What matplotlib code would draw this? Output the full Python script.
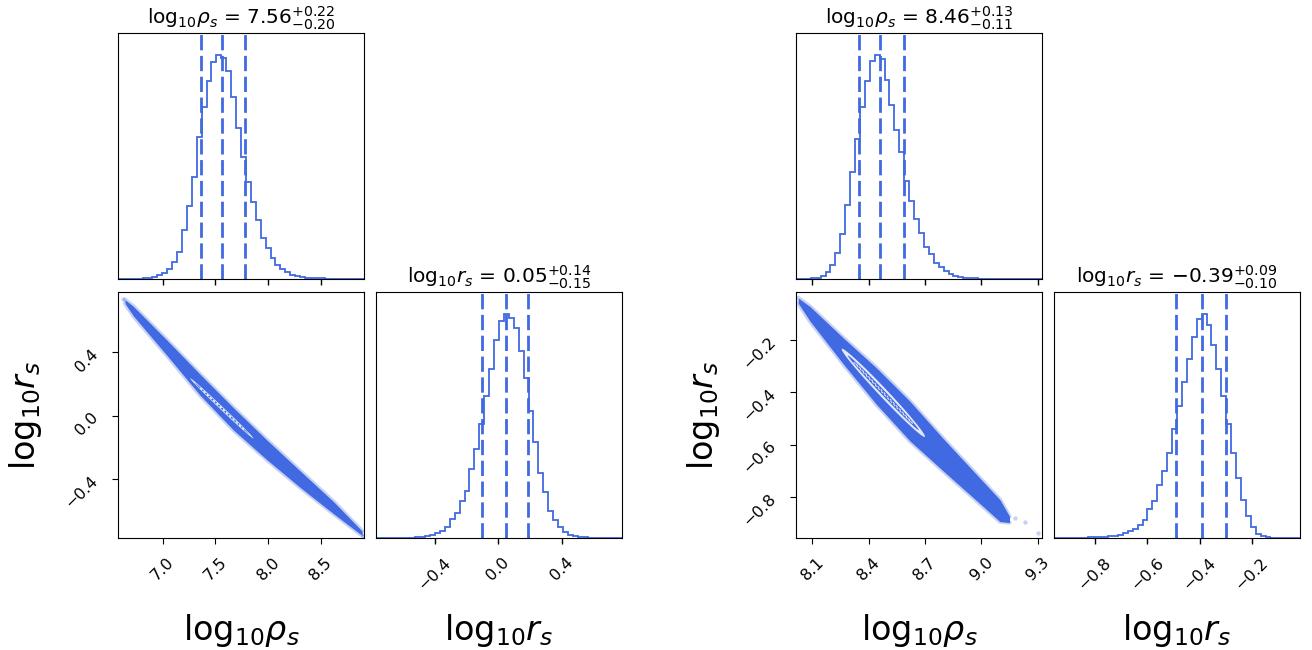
"""
Two corner plots (log10 rho_s vs log10 r_s) side by side, redrawn from a reference.
"""

import numpy as np
import matplotlib
matplotlib.use("Agg")
import matplotlib.pyplot as plt

COLOR = "royalblue"

# ---- values ----
# 1D marginals, 50 bins each, normalised to the peak bin
rho_a_hist = [0.001, 0.001, 0.002, 0.002, 0.002, 0.003, 0.005, 0.010, 0.018, 0.028,
              0.043, 0.077, 0.122, 0.219, 0.326, 0.457, 0.636, 0.770, 0.886, 0.970,
              1.000, 0.990, 0.930, 0.815, 0.676, 0.546, 0.434, 0.345, 0.262, 0.183,
              0.137, 0.092, 0.063, 0.043, 0.033, 0.018, 0.013, 0.009, 0.006, 0.004,
              0.003, 0.003, 0.002, 0.002, 0.001, 0.001, 0.001, 0.001, 0.001, 0.001]
r_a_hist = [0.001, 0.001, 0.001, 0.001, 0.001, 0.001, 0.002, 0.002, 0.003, 0.006,
            0.009, 0.015, 0.021, 0.033, 0.051, 0.085, 0.112, 0.167, 0.212, 0.309,
            0.397, 0.509, 0.635, 0.754, 0.885, 0.970, 1.000, 0.985, 0.940, 0.837,
            0.714, 0.570, 0.430, 0.292, 0.205, 0.122, 0.080, 0.047, 0.025, 0.015,
            0.009, 0.005, 0.003, 0.002, 0.002, 0.001, 0.001, 0.001, 0.001, 0.001]
rho_b_hist = [0.001, 0.001, 0.002, 0.003, 0.005, 0.013, 0.030, 0.063, 0.117, 0.202,
              0.329, 0.478, 0.625, 0.770, 0.885, 0.975, 1.000, 0.982, 0.888, 0.776,
              0.668, 0.570, 0.436, 0.347, 0.267, 0.205, 0.145, 0.112, 0.072, 0.052,
              0.034, 0.022, 0.015, 0.007, 0.005, 0.003, 0.003, 0.002, 0.002, 0.001,
              0.001, 0.001, 0.001, 0.001, 0.001, 0.001, 0.001, 0.001, 0.001, 0.001]
r_b_hist = [0.001, 0.001, 0.001, 0.001, 0.002, 0.002, 0.002, 0.003, 0.003, 0.004,
            0.005, 0.009, 0.010, 0.015, 0.021, 0.030, 0.040, 0.058, 0.081, 0.130,
            0.167, 0.239, 0.299, 0.379, 0.488, 0.590, 0.697, 0.801, 0.901, 0.981,
            1.000, 0.951, 0.861, 0.757, 0.633, 0.510, 0.379, 0.269, 0.170, 0.100,
            0.048, 0.018, 0.009, 0.003, 0.001, 0.001, 0.001, 0.001, 0.001, 0.001]

# axis ranges
rho_a_range = (6.576, 8.908)
r_a_range = (-0.770, 0.780)
rho_b_range = (8.013, 9.323)
r_b_range = (-0.958, -0.015)

# median and -/+ errors shown in the titles
rho_a_stats = (7.56, 0.20, 0.22)
r_a_stats = (0.05, 0.15, 0.14)
rho_b_stats = (8.46, 0.11, 0.13)
r_b_stats = (-0.39, 0.10, 0.09)

# tick values
rho_a_ticks = [7.0, 7.5, 8.0, 8.5]
r_a_ticks = [-0.4, 0.0, 0.4]
rho_b_ticks = [8.1, 8.4, 8.7, 9.0, 9.3]
r_b_ticks = [-0.8, -0.6, -0.4, -0.2]

# 2D sample cloud: upper / lower edges of the dense band
band_a_x = [6.643, 6.721, 7.038, 7.355, 7.671, 7.988, 8.304, 8.621, 8.890]
band_a_up = [0.731, 0.690, 0.478, 0.261, 0.050, -0.153, -0.348, -0.542, -0.726]
band_a_lo = [0.707, 0.630, 0.382, 0.129, -0.090, -0.277, -0.452, -0.618, -0.754]
stray_a_x = [6.62, 8.90]
stray_a_y = [0.735, -0.760]

band_b_x = [8.025, 8.088, 8.265, 8.443, 8.620, 8.797, 8.975, 9.099, 9.150]
band_b_up = [-0.038, -0.071, -0.191, -0.307, -0.434, -0.577, -0.715, -0.811, -0.875]
band_b_lo = [-0.058, -0.127, -0.291, -0.447, -0.586, -0.701, -0.815, -0.895, -0.899]
stray_b_x = [9.18, 9.23, 9.30]
stray_b_y = [-0.882, -0.896, -0.940]

# inner contour: two tips and vertical half-thickness
contour_a = ((7.26, 0.236), (7.86, -0.142), 0.014)
contour_b = ((8.256, -0.234), (8.70, -0.569), 0.024)

RHO_LABEL = r"$\mathrm{log}_{10}\rho_s$"
R_LABEL = r"$\mathrm{log}_{10}r_s$"


def title_text(name, stats):
    m, lo, hi = stats
    return f"{name} = ${m:.2f}_{{-{lo:.2f}}}^{{+{hi:.2f}}}$"


def hist_panel(ax, heights, rng, stats, ticks, name):
    edges = np.linspace(rng[0], rng[1], len(heights) + 1)
    ax.stairs(heights, edges, color=COLOR, lw=1.3)
    m, lo, hi = stats
    for q in (m - lo, m, m + hi):
        ax.axvline(q, color=COLOR, lw=2, ls=(0, (5.5, 2)))
    ax.set_xlim(*rng)
    ax.set_ylim(0, 1.1 * max(heights))
    ax.set_yticks([])
    ax.set_xticks(ticks)
    ax.tick_params(length=4.1, width=1.0)
    ax.set_title(title_text(name, stats), fontsize=14.5)


def ellipse_pts(tips, h, shrink=1.0):
    (x1, y1), (x2, y2) = tips
    cx, cy = (x1 + x2) / 2, (y1 + y2) / 2
    ax_, ay_ = (x2 - x1) / 2 * shrink, (y2 - y1) / 2 * shrink
    t = np.linspace(0, 2 * np.pi, 100)
    return cx + ax_ * np.cos(t), cy + ay_ * np.cos(t) + h * np.sin(t)


def scatter_panel(ax, bx, bup, blo, sx, sy, contour):
    ax.fill_between(bx, blo, bup, color=COLOR, lw=0)
    ax.plot(bx, bup, color=COLOR, lw=3, alpha=0.3, solid_capstyle="round")
    ax.plot(bx, blo, color=COLOR, lw=3, alpha=0.3, solid_capstyle="round")
    ax.scatter(sx, sy, s=10, color=COLOR, alpha=0.3, lw=0)
    tips, h = contour[:2], contour[2]
    ex, ey = ellipse_pts(tips, h)
    ax.fill(ex, ey, color="#e3e9fb", lw=0)
    ex, ey = ellipse_pts(tips, h * 0.5, 0.85)
    ax.fill(ex, ey, color=COLOR, lw=0)
    ex, ey = ellipse_pts(tips, h * 0.12, 0.7)
    ax.plot(ex, ey, color="#e3e9fb", lw=0.8, ls=(0, (2, 2)))


def corner(fig, x0, rho_hist, r_hist, rho_rng, r_rng, rho_stats, r_stats,
           rho_ticks, r_ticks, band, stray, contour):
    W, H = 1312, 650
    size, gap = 246, 12
    top_y, bot_y = 33, 292
    ax_top = fig.add_axes([x0 / W, 1 - (top_y + size) / H, size / W, size / H])
    ax_sc = fig.add_axes([x0 / W, 1 - (bot_y + size) / H, size / W, size / H])
    ax_r = fig.add_axes([(x0 + size + gap) / W, 1 - (bot_y + size) / H, size / W, size / H])

    hist_panel(ax_top, rho_hist, rho_rng, rho_stats, rho_ticks, RHO_LABEL)
    ax_top.set_xticklabels([])

    hist_panel(ax_r, r_hist, r_rng, r_stats, r_ticks, R_LABEL)
    ax_r.tick_params(axis="x", labelrotation=45, labelsize=11.5, pad=8)
    ax_r.set_xlabel(R_LABEL, fontsize=24)
    ax_r.xaxis.set_label_coords(0.5, -0.30)

    scatter_panel(ax_sc, *band, *stray, contour)
    ax_sc.set_xlim(*rho_rng)
    ax_sc.set_ylim(*r_rng)
    ax_sc.set_xticks(rho_ticks)
    ax_sc.set_yticks(r_ticks)
    ax_sc.tick_params(axis="both", labelrotation=45, labelsize=11.5, pad=8,
                      length=4.1)
    ax_sc.set_xlabel(RHO_LABEL, fontsize=24)
    ax_sc.set_ylabel(R_LABEL, fontsize=24)
    ax_sc.xaxis.set_label_coords(0.5, -0.30)
    ax_sc.yaxis.set_label_coords(-0.30, 0.5)


def main():
    fig = plt.figure(figsize=(13.12, 6.5), dpi=100)
    corner(fig, 118, rho_a_hist, r_a_hist, rho_a_range, r_a_range,
           rho_a_stats, r_a_stats, rho_a_ticks, r_a_ticks,
           (band_a_x, band_a_up, band_a_lo), (stray_a_x, stray_a_y), contour_a)
    corner(fig, 796, rho_b_hist, r_b_hist, rho_b_range, r_b_range,
           rho_b_stats, r_b_stats, rho_b_ticks, r_b_ticks,
           (band_b_x, band_b_up, band_b_lo), (stray_b_x, stray_b_y), contour_b)
    fig.savefig("out.png", dpi=100)
    plt.close(fig)


if __name__ == "__main__":
    main()
